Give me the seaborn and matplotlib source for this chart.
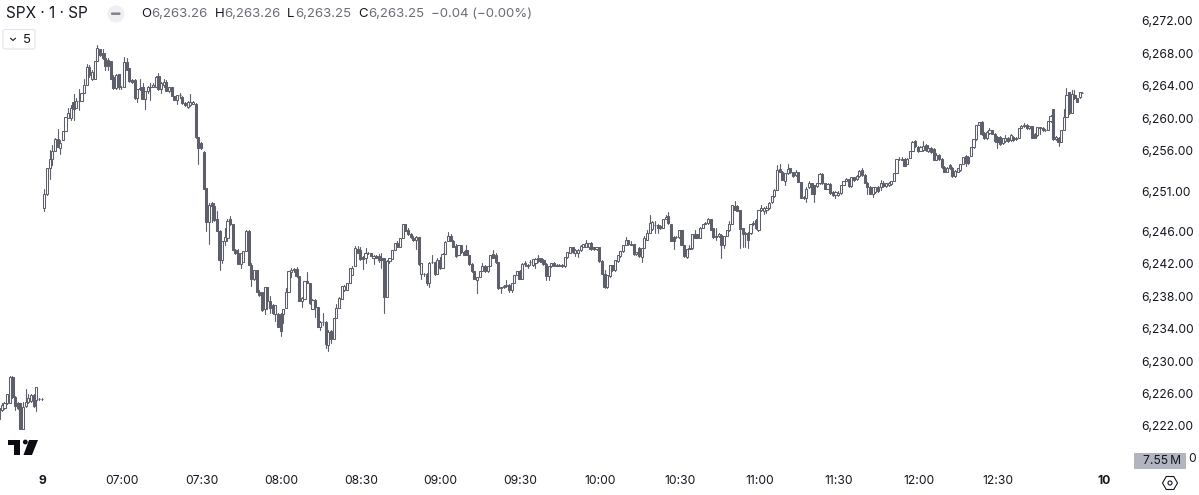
import numpy as np
import pandas as pd
import matplotlib
matplotlib.use('Agg')
import matplotlib.pyplot as plt
import seaborn as sns
from matplotlib.patches import Circle, FancyBboxPatch, Polygon, Rectangle, RegularPolygon
from matplotlib.transforms import ScaledTranslation

# prices are stored as points above 6200, one row is ten bars
base_price = 6200

# last bars of the previous session
prev_opens = [22.9,24.0,24.2,24.8,24.8,28.1,25.6,24.9,24.8,21.6,24.5,25.0,25.1,25.8,25.2,25.3,25.3]
prev_closes = [24.2,24.6,24.9,26.0,28.1,25.6,24.5,24.2,21.6,24.4,25.0,25.4,25.8,24.5,26.8,25.3,25.3]
prev_highs = [24.2,24.8,25.0,26.0,28.2,28.2,25.7,25.0,24.9,25.0,26.6,25.9,25.9,25.9,26.8,25.4,25.4]
prev_lows = [22.9,23.8,24.1,24.7,24.8,25.5,24.0,24.1,21.6,21.6,24.4,24.9,25.0,24.4,23.9,25.2,25.2]

# one minute bars of the session on the 9th
opens = [
    48.9,50.6,53.8,55.0,55.9,57.4,56.3,57.3,58.4,60.0,
    60.0,62.0,61.3,62.1,62.1,63.1,64.1,66.3,64.9,64.9,
    67.1,68.6,68.0,67.4,67.2,67.0,65.1,63.7,65.4,63.8,
    63.8,66.9,66.2,64.7,64.7,62.5,63.6,63.8,62.4,63.3,
    63.9,63.9,63.9,65.2,63.6,64.1,64.5,63.3,63.8,62.8,
    62.2,62.9,62.6,61.9,61.4,61.6,61.8,61.8,57.7,56.9,
    55.8,51.4,47.2,49.5,49.1,47.5,46.1,42.5,44.9,45.2,
    47.5,46.9,43.7,43.4,42.0,42.3,43.6,46.1,41.9,40.2,
    41.3,38.6,38.5,36.5,39.1,37.4,36.9,35.8,35.8,35.8,
    35.8,36.6,38.6,41.0,41.2,41.4,40.5,37.4,37.7,39.9,
    39.6,36.5,37.6,36.7,34.2,34.9,34.9,32.0,33.7,32.8,
    35.3,36.6,37.7,38.8,38.8,39.7,40.7,41.7,43.9,43.7,
    42.9,42.8,43.3,43.3,42.7,43.0,43.0,42.8,42.8,37.9,
    42.4,42.6,43.7,44.6,44.1,45.2,47.0,46.2,45.7,45.2,
    45.0,45.3,40.8,40.8,40.8,39.6,42.2,42.2,40.8,42.5,
    41.5,43.2,44.9,45.5,44.9,44.2,43.1,44.3,43.5,43.7,
    43.1,42.0,41.1,40.0,40.4,41.1,41.7,41.1,41.7,43.2,
    43.1,42.2,39.0,39.1,39.3,39.4,38.8,39.6,40.6,41.1,
    40.2,42.1,41.7,42.2,41.9,42.1,42.8,42.7,42.5,42.0,
    40.5,41.7,42.1,41.8,41.9,41.9,41.7,42.9,43.4,44.1,
    43.4,43.4,43.7,44.1,44.1,44.1,44.6,44.1,43.8,44.1,
    42.4,40.8,39.2,40.5,41.9,41.2,42.4,43.0,43.6,44.3,
    45.0,44.4,44.5,43.2,44.0,42.9,44.0,45.0,45.8,46.3,
    46.8,46.8,46.7,46.5,47.6,47.9,47.0,45.3,45.3,45.3,
    46.2,44.4,42.9,43.9,44.0,45.7,45.7,45.2,46.5,46.9,
    47.1,47.6,46.4,45.3,45.5,45.6,44.3,45.5,46.2,46.9,
    49.2,49.1,48.7,46.4,45.7,45.8,45.8,46.9,47.4,46.2,
    48.7,48.6,48.7,48.9,49.6,50.4,51.1,53.7,53.4,52.3,
    53.2,53.8,53.3,53.0,53.3,52.1,50.1,50.1,51.5,52.0,
    51.7,51.6,52.0,53.1,52.0,51.3,51.9,50.9,50.5,50.5,
    50.8,51.7,52.2,52.5,51.6,52.7,52.5,52.9,53.6,53.0,
    52.0,51.5,50.7,50.9,51.5,51.5,52.0,51.6,51.7,51.9,
    52.2,53.2,55.0,54.9,55.0,54.3,55.1,56.0,57.2,56.5,
    55.9,56.1,56.7,55.9,56.3,56.2,54.9,55.5,55.0,54.0,
    53.4,54.2,53.9,52.9,53.4,53.6,54.3,55.3,55.2,55.3,
    56.4,57.4,59.2,59.5,58.2,57.5,58.2,58.5,58.1,57.7,
    57.7,56.9,57.2,57.6,57.3,57.7,57.4,57.6,58.8,59.0,
    59.2,58.8,59.0,58.1,57.9,58.9,58.8,58.5,58.5,59.6,
    61.1,57.4,57.6,57.1,58.6,60.2,63.2,60.7,62.9,62.5,62.6,63.1,
]
closes = [
    50.6,53.8,55.0,55.9,57.4,56.5,56.9,58.4,60.1,60.6,
    61.3,61.1,62.1,62.1,63.1,64.1,66.3,65.3,65.7,67.1,
    68.7,67.8,67.4,66.4,66.4,64.8,63.7,65.3,63.8,63.9,
    66.9,65.9,64.6,64.5,62.5,63.6,63.7,62.4,63.3,63.9,
    63.8,64.1,65.1,63.6,64.3,64.5,63.3,63.8,62.8,62.2,
    62.9,62.9,61.9,61.6,62.0,62.0,62.0,57.7,56.3,56.3,
    51.3,47.2,49.3,49.1,47.4,46.1,42.5,44.9,45.3,47.3,
    46.9,43.7,43.3,42.0,43.3,43.6,46.1,41.9,40.2,41.3,
    38.6,38.2,36.3,39.1,37.4,36.6,35.9,36.9,34.2,33.7,
    36.4,38.5,41.1,41.2,41.4,40.5,37.4,37.8,39.9,39.6,
    37.2,37.6,36.7,34.2,34.9,34.9,32.1,33.6,32.8,35.3,
    36.6,37.8,39.3,39.3,39.7,41.5,41.5,44.0,43.4,42.6,
    42.6,43.3,43.4,43.0,43.0,42.7,42.5,42.5,37.9,42.4,
    42.7,43.7,44.6,44.1,45.2,47.0,46.1,45.7,45.3,45.0,
    45.3,42.0,42.1,40.8,39.6,42.1,42.2,40.8,42.5,41.5,
    43.2,44.7,45.5,44.8,44.1,43.0,44.3,43.5,43.1,43.1,
    42.0,41.1,40.2,40.4,41.1,41.7,41.1,41.7,43.1,42.8,
    42.2,39.0,39.1,39.3,39.4,38.8,39.6,40.6,41.1,40.2,
    42.0,42.0,41.9,42.3,42.6,42.6,42.4,42.3,42.0,40.5,
    41.7,42.1,41.8,41.9,41.8,41.7,42.9,43.5,44.1,43.5,
    43.7,43.7,44.2,44.5,44.6,44.6,43.8,43.8,44.1,42.4,
    40.8,39.2,40.6,41.9,41.2,42.5,43.1,43.6,44.3,45.0,
    44.5,44.5,43.2,43.5,43.0,44.0,45.2,45.8,47.0,47.2,
    46.8,46.4,46.4,47.6,47.8,47.0,44.9,44.9,45.3,46.2,
    44.4,43.0,43.9,44.0,45.7,45.2,45.2,46.5,46.9,47.1,
    47.6,46.2,45.3,45.5,45.7,44.3,45.5,46.2,46.9,49.3,
    48.7,48.6,46.3,45.7,45.8,45.0,46.9,47.1,46.4,48.7,
    48.9,48.9,48.9,49.5,50.4,51.1,53.6,53.4,52.4,53.2,
    53.7,53.3,52.9,53.3,52.1,50.2,50.3,51.3,52.0,50.7,
    50.7,52.0,53.1,52.0,51.3,51.9,50.8,50.5,50.9,50.8,
    51.7,52.3,52.5,51.6,52.7,52.4,52.9,53.5,53.0,52.0,
    51.5,50.7,51.5,51.5,51.0,52.0,51.6,52.0,52.0,52.2,
    53.2,55.0,55.0,55.0,54.1,55.0,56.0,57.1,56.6,55.9,
    56.5,56.6,56.1,56.3,55.8,54.9,55.5,55.0,54.0,53.4,
    53.9,53.8,52.9,53.5,53.8,54.4,55.2,54.5,54.5,56.5,
    57.4,59.2,59.5,58.0,57.5,58.3,58.5,58.1,57.2,57.1,
    56.8,57.6,57.6,57.2,57.9,57.3,57.6,58.8,59.0,59.2,
    58.8,59.0,57.6,57.6,58.9,58.8,58.5,58.6,59.7,60.3,
    57.4,57.7,57.1,58.6,60.2,62.9,60.6,63.0,62.5,62.0,63.2,63.1,
]
highs = [
    51.3,53.8,56.1,56.7,57.6,58.7,57.3,58.4,60.1,61.2,
    61.6,63.0,62.5,63.6,63.1,64.9,66.7,66.6,66.0,67.1,
    69.0,68.6,68.6,68.0,67.4,67.0,65.3,65.4,65.5,64.0,
    67.5,67.4,66.2,64.9,64.9,63.6,64.9,64.3,63.3,64.0,
    64.3,64.4,65.2,65.6,64.5,64.8,64.7,63.8,63.9,62.8,
    62.9,63.1,62.7,62.0,62.1,63.0,62.1,61.9,57.7,57.0,
    55.9,51.4,49.5,49.6,49.5,48.6,46.2,44.9,46.5,47.5,
    47.9,46.9,43.9,43.9,43.3,43.6,46.2,46.2,42.1,41.3,
    41.3,38.8,38.5,39.2,39.2,38.0,37.1,36.9,35.9,35.9,
    36.5,39.0,41.1,41.5,41.5,41.6,40.5,37.9,39.9,41.0,
    39.7,37.7,37.7,36.7,35.0,36.0,35.0,33.8,33.8,35.3,
    37.1,37.9,39.3,39.4,39.7,41.5,41.7,44.2,44.2,44.1,
    43.0,44.0,43.5,43.4,43.1,43.1,43.2,43.3,42.8,42.5,
    42.8,43.7,44.6,44.8,45.2,47.0,47.0,46.4,45.8,45.4,
    45.4,45.3,42.1,40.9,40.9,42.2,43.1,42.3,42.8,42.9,
    43.3,44.8,46.0,45.7,45.0,44.5,44.4,44.4,43.6,44.3,
    43.1,42.1,41.1,40.4,41.1,42.1,41.9,41.8,43.1,43.7,
    43.3,42.2,39.2,39.4,40.0,39.5,39.6,40.6,41.1,41.2,
    42.1,42.4,42.0,42.5,42.6,42.8,43.1,42.8,42.6,42.1,
    41.7,42.1,42.2,42.0,42.0,42.0,42.9,43.5,44.1,44.1,
    43.8,43.8,44.3,44.5,45.0,44.6,44.7,44.1,44.1,44.1,
    42.5,41.3,40.6,41.9,41.9,42.5,43.1,43.6,44.3,45.3,
    45.0,44.8,44.5,43.5,44.1,44.0,45.4,46.2,48.0,47.3,
    47.3,47.0,46.8,47.6,48.0,48.4,47.0,45.4,45.5,46.2,
    46.2,44.4,43.9,44.4,45.7,46.2,45.7,46.6,46.9,47.2,
    47.7,47.6,46.5,46.4,45.8,45.7,45.5,46.2,47.3,49.3,
    49.8,49.3,48.7,46.4,45.9,45.9,46.9,47.3,47.6,48.7,
    49.3,49.0,49.1,49.6,50.4,51.2,54.2,54.3,53.5,53.2,
    54.4,53.9,53.4,53.6,53.4,52.1,50.4,51.5,52.3,52.0,
    51.8,52.0,53.2,53.2,52.0,52.0,52.0,51.0,51.0,51.0,
    51.7,52.3,52.6,52.5,52.7,52.8,53.0,53.6,53.8,53.1,
    52.1,51.6,51.5,51.5,51.6,52.4,52.2,52.0,52.1,52.3,
    53.2,55.0,55.2,55.2,55.1,55.1,56.0,57.2,57.3,56.6,
    56.6,57.2,56.8,56.7,56.4,56.3,55.7,55.6,55.1,54.1,
    54.0,54.3,54.0,53.6,53.9,54.4,55.2,55.4,55.3,56.5,
    57.4,59.2,59.5,59.6,58.3,58.4,58.8,58.5,58.2,57.8,
    57.8,57.6,57.9,57.7,58.1,57.8,57.7,58.8,59.1,59.4,
    59.3,59.0,59.0,58.2,58.9,58.9,58.9,58.7,59.7,60.4,
    61.1,57.8,57.7,58.6,61.1,63.7,63.2,63.5,63.5,62.5,63.2,63.2,
]
lows = [
    48.6,50.5,52.5,54.2,55.9,56.4,55.6,57.3,58.4,60.0,
    59.8,59.8,61.3,61.0,62.1,63.1,64.1,65.1,64.7,64.9,
    67.1,67.7,67.3,66.0,66.0,64.8,63.6,63.6,63.6,63.6,
    63.8,65.9,64.5,64.3,62.4,62.0,63.5,62.4,61.1,63.1,
    62.2,63.8,63.9,63.5,63.1,63.9,63.3,63.2,62.8,62.2,
    61.7,62.5,61.7,61.5,61.3,61.5,61.7,57.5,54.3,56.2,
    51.2,46.1,44.5,47.2,47.3,46.1,41.3,42.1,44.3,44.8,
    46.8,43.7,43.2,42.0,41.5,42.2,43.6,41.9,39.3,40.0,
    38.5,38.0,36.2,35.8,36.5,36.0,35.8,35.0,34.2,33.1,
    34.7,36.6,38.6,40.4,41.0,40.4,37.4,36.7,37.7,39.6,
    37.1,36.4,35.5,34.2,33.9,34.5,31.6,31.3,32.3,32.8,
    35.3,36.6,37.7,38.7,38.8,39.7,40.6,41.7,43.3,42.5,
    41.4,42.1,43.2,43.0,42.0,42.7,42.3,41.5,35.9,37.9,
    42.1,42.6,43.7,44.1,44.1,45.2,46.1,45.6,45.2,44.8,
    43.9,41.9,40.2,40.5,39.4,39.1,42.1,40.7,40.8,41.4,
    41.5,43.2,44.8,44.8,44.1,42.9,43.1,43.4,43.1,43.1,
    41.9,41.0,40.1,38.4,40.4,41.1,41.0,41.0,41.7,42.7,
    42.1,38.9,38.4,39.0,39.2,38.6,38.6,39.6,40.6,40.1,
    40.2,41.7,41.5,41.9,41.8,41.5,42.3,42.2,41.9,40.0,
    40.0,41.6,41.7,41.7,41.8,41.6,41.6,42.8,43.3,43.4,
    43.0,42.9,43.6,44.1,44.1,43.9,43.7,43.7,43.7,42.3,
    40.8,39.0,39.0,40.4,41.1,41.1,42.3,42.9,43.5,44.3,
    44.4,44.3,43.1,43.1,42.9,42.3,44.0,45.0,45.8,46.2,
    45.8,45.8,46.3,46.4,47.5,46.9,44.9,43.8,45.2,45.2,
    44.4,42.9,42.8,43.8,43.9,45.2,45.2,45.2,46.4,46.9,
    47.0,46.2,45.2,45.0,45.3,42.8,44.0,45.4,46.1,46.9,
    48.7,48.5,44.0,44.1,44.1,44.0,45.7,46.8,46.3,46.1,
    48.6,48.2,48.3,48.8,49.5,50.3,51.1,53.3,52.4,51.7,
    53.1,53.2,52.8,52.9,52.1,50.1,50.0,49.7,51.4,50.6,
    49.7,51.5,51.9,51.9,51.3,51.3,50.7,50.4,50.1,50.4,
    50.7,51.7,52.2,51.5,51.5,52.3,52.4,52.8,52.9,52.0,
    50.7,50.6,50.3,50.8,50.9,51.1,51.5,51.5,51.6,51.8,
    52.2,53.2,54.8,54.8,54.1,54.3,55.1,55.9,56.5,55.8,
    55.9,56.0,56.0,55.8,55.7,54.8,54.8,54.9,53.9,53.3,
    53.3,53.7,52.8,52.8,53.3,53.5,54.3,54.1,54.4,55.3,
    56.3,57.3,59.1,57.9,57.4,57.4,58.1,58.0,57.1,56.3,
    56.7,56.8,57.1,57.1,57.2,57.2,57.3,57.6,58.8,58.9,
    58.7,58.7,57.5,57.5,57.8,58.0,58.4,58.4,58.5,59.5,
    57.3,57.3,56.6,57.0,58.5,60.1,60.5,60.6,62.4,62.0,62.5,63.1,
]

# first minute after the open of the 9th is bar 0
first_bar = -len(prev_opens)

tick_prices = [6272, 6268, 6264, 6260, 6256, 6251, 6246, 6242, 6238, 6234, 6230, 6226, 6222]
time_ticks = [0, 30, 60, 90, 120, 150, 180, 210, 240, 270, 300, 330, 360, 399]
time_labels = ['9', '07:00', '07:30', '08:00', '08:30', '09:00', '09:30', '10:00', '10:30', '11:00',
               '11:30', '12:00', '12:30', '10']

candle_color = '#5d606b'
text_color = '#131722'
grey_text = '#6a6d78'

o = base_price + np.array(prev_opens + opens)
c = base_price + np.array(prev_closes + closes)
h = base_price + np.array(prev_highs + highs)
l = base_price + np.array(prev_lows + lows)
bars = np.arange(first_bar, first_bar + len(o))

# wicks go in long form so seaborn draws one segment per bar
wicks = pd.DataFrame({'bar': np.repeat(bars, 2), 'price': np.column_stack([l, h]).ravel()})

sns.set_theme(style='white')
plt.rcParams['font.family'] = ['Inter', 'DejaVu Sans']

fig = plt.figure(figsize=(11.99, 4.95), dpi=100)
ax = fig.add_axes([0, 25 / 495, 1133 / 1199, 470 / 495])

sns.lineplot(data=wicks, x='bar', y='price', units='bar', estimator=None, sort=False,
             color=candle_color, linewidth=0.8, legend=False, ax=ax, zorder=2)

up = c >= o
ax.bar(bars[up], (c - o)[up], bottom=o[up], width=0.8, facecolor='white', edgecolor=candle_color,
       linewidth=0.75, zorder=3)
ax.bar(bars[~up], (c - o)[~up], bottom=o[~up], width=0.8, facecolor=candle_color, edgecolor=candle_color,
       linewidth=0.75, zorder=3)

ax.set_xlim(-44.3 / 2.655, (1133 - 44.3) / 2.655)
ax.set_ylim(6272 - 449 / 8.1, 6272 + 21 / 8.1)
ax.set_xlabel('')
ax.set_ylabel('')
ax.set_xticks(time_ticks)
ax.set_xticklabels(time_labels)
ax.set_yticks(tick_prices)
ax.set_yticklabels([f'{p:,.2f}' for p in tick_prices])
ax.yaxis.tick_right()
ax.tick_params(axis='y', length=0, pad=6, labelsize=8.7, labelcolor=text_color, left=False)
ax.tick_params(axis='x', length=0, pad=3.5, labelsize=8.7, labelcolor=text_color)

# the time labels sit a touch left of the bar they name
nudge = ScaledTranslation(-1.3 / 72, 0, fig.dpi_scale_trans)
for label in ax.get_xticklabels():
    if label.get_text() in ('9', '10'):
        label.set_fontweight('bold')
    if label.get_text() != '10':
        label.set_transform(label.get_transform() + nudge)
sns.despine(ax=ax, left=True, bottom=True, top=True, right=True)

# overlay in picture pixels for the header, logo and little widgets
top = fig.add_axes([0, 0, 1, 1], facecolor='none')
top.set_xlim(0, 1199)
top.set_ylim(495, 0)
top.axis('off')

top.text(5.5, 14, 'SPX · 1 · SP', fontsize=11, color=text_color, va='center')
top.add_patch(Circle((116, 14), 8.5, facecolor='#eeeff2', edgecolor='none'))
top.add_patch(FancyBboxPatch((111, 12.5), 9.5, 2.4, boxstyle='round,pad=0,rounding_size=1',
                             facecolor='#7d808a', edgecolor='none'))

ohlc_parts = [(141, 'O', text_color), (151, '6,263.26', grey_text), (215, 'H', text_color), (224, '6,263.26', grey_text),
              (287, 'L', text_color), (295, '6,263.25', grey_text), (358, 'C', text_color), (368, '6,263.25', grey_text),
              (431, '−0.04 (−0.00%)', grey_text)]
for x, s, col in ohlc_parts:
    top.text(x, 14, s, fontsize=9.5, color=col, va='center')

top.add_patch(FancyBboxPatch((3, 29.5), 32, 19.5, boxstyle='round,pad=0,rounding_size=2',
                             facecolor='white', edgecolor='#e0e3eb', linewidth=0.8))
top.plot([10.5, 13, 15.5], [38.2, 40.5, 38.2], color=text_color, linewidth=0.8)
top.text(23, 40, '5', fontsize=9.5, color=text_color, va='center')

# TradingView mark
top.add_patch(Polygon([(8, 440), (20, 440), (20, 455), (14, 455), (14, 445), (8, 445)], facecolor='#0b0d12', edgecolor='none'))
top.add_patch(Circle((25.3, 442), 2.4, facecolor='#0b0d12', edgecolor='none'))
top.add_patch(Polygon([(29, 440), (38, 440), (32, 455), (23.5, 455)], facecolor='#0b0d12', edgecolor='none'))

# volume scale badge
top.add_patch(Rectangle((1134, 453), 52, 16, facecolor='#b2b5be', edgecolor='none'))
top.text(1143, 461, '7.55\u2009M', fontsize=8.7, color=text_color, va='center')
top.text(1188, 459.5, '0', fontsize=8.7, color=text_color, va='center')

# settings icon
top.add_patch(RegularPolygon((1170, 483), 6, radius=7.5, orientation=np.pi / 2, facecolor='white',
                             edgecolor=text_color, linewidth=0.8))
top.add_patch(Circle((1170, 483), 2, facecolor='white', edgecolor=text_color, linewidth=0.8))

fig.savefig('out.png', dpi=100)
